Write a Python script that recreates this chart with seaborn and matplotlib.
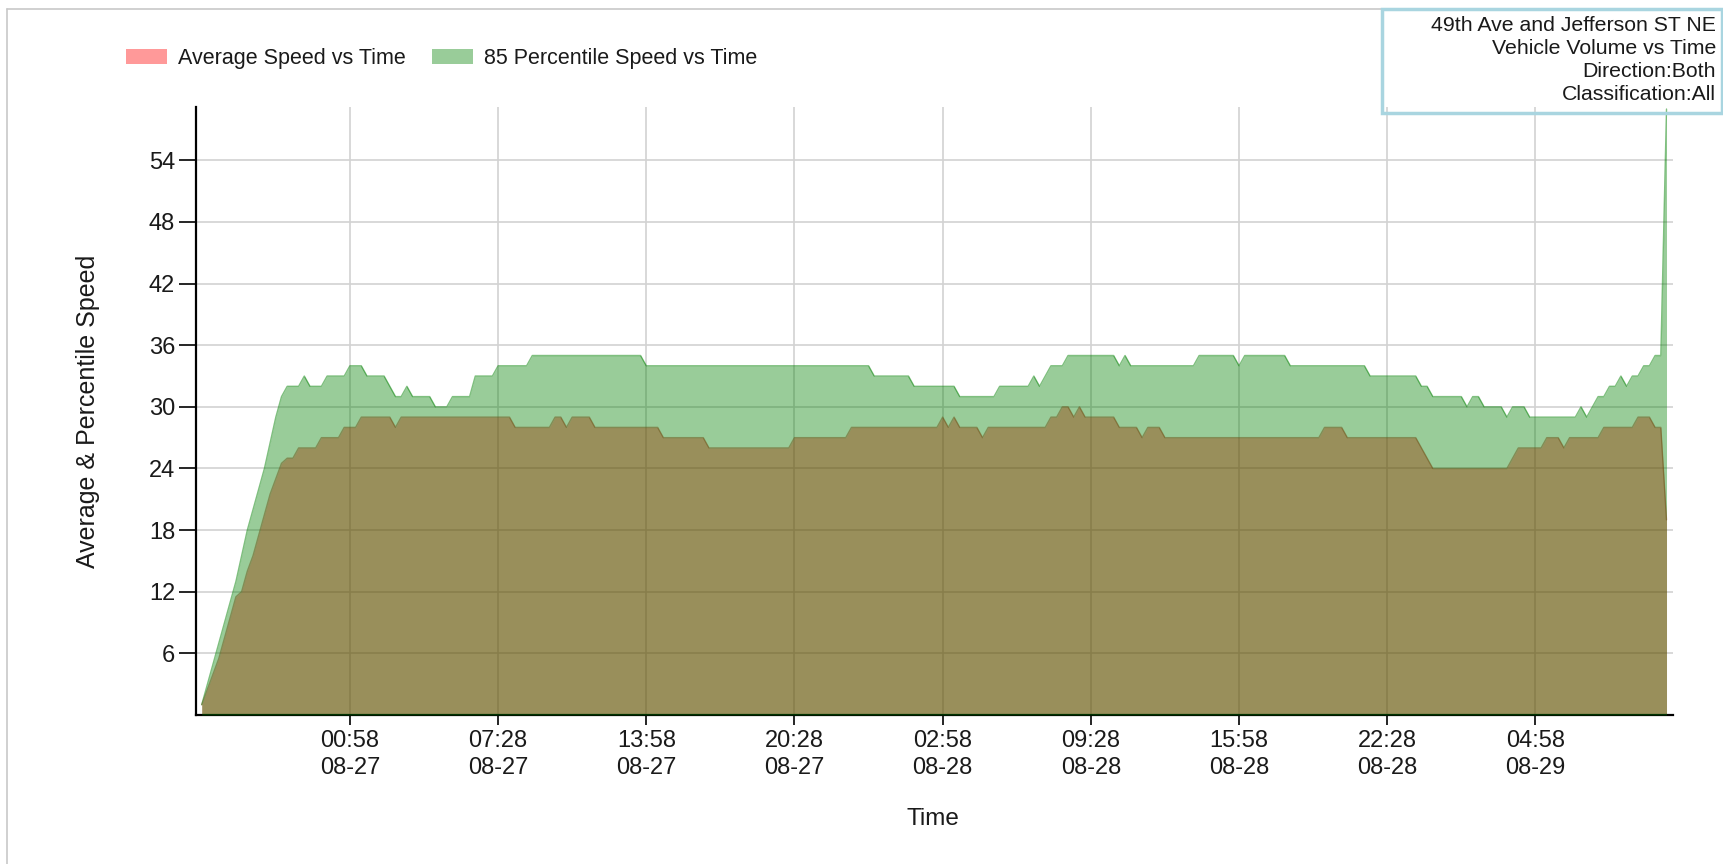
import matplotlib
matplotlib.use("Agg")
import pandas as pd
import matplotlib.pyplot as plt
from matplotlib.patches import Patch, Rectangle
from matplotlib.lines import Line2D
import seaborn as sns

# ─────────────────────────────────────────────
# DATA  (one value every 15 minutes)
# ─────────────────────────────────────────────
avg_speed = [
    1, 2.5, 4, 5.5, 7.5, 9.5, 11.5, 12, 14, 15.5, 17.5, 19.5, 21.5, 23, 24.5, 25, 25, 26, 26, 26, 26, 27, 27, 27, 27, 28,
    28, 28, 29, 29, 29, 29, 29, 29, 28, 29, 29, 29, 29, 29, 29, 29, 29, 29, 29, 29, 29, 29, 29, 29, 29, 29,
    29, 29, 29, 28, 28, 28, 28, 28, 28, 28, 29, 29, 28, 29, 29, 29, 29, 28, 28, 28, 28, 28, 28, 28, 28, 28,
    28, 28, 28, 27, 27, 27, 27, 27, 27, 27, 27, 26, 26, 26, 26, 26, 26, 26, 26, 26, 26, 26, 26, 26, 26, 26,
    27, 27, 27, 27, 27, 27, 27, 27, 27, 27, 28, 28, 28, 28, 28, 28, 28, 28, 28, 28, 28, 28, 28, 28, 28, 28,
    29, 28, 29, 28, 28, 28, 28, 27, 28, 28, 28, 28, 28, 28, 28, 28, 28, 28, 28, 29, 29, 30, 30, 29, 30, 29,
    29, 29, 29, 29, 29, 28, 28, 28, 28, 27, 28, 28, 28, 27, 27, 27, 27, 27, 27, 27, 27, 27, 27, 27, 27, 27,
    27, 27, 27, 27, 27, 27, 27, 27, 27, 27, 27, 27, 27, 27, 27, 28, 28, 28, 28, 27, 27, 27, 27, 27, 27, 27,
    27, 27, 27, 27, 27, 27, 26, 25, 24, 24, 24, 24, 24, 24, 24, 24, 24, 24, 24, 24, 24, 24, 25, 26, 26, 26,
    26, 26, 27, 27, 27, 26, 27, 27, 27, 27, 27, 27, 28, 28, 28, 28, 28, 28, 29, 29, 29, 28, 28, 19,
]
p85_speed = [
    1, 3, 5, 7, 9, 11, 13, 15.5, 18, 20, 22, 24, 26.5, 29, 31, 32, 32, 32, 33, 32, 32, 32, 33, 33, 33, 33,
    34, 34, 34, 33, 33, 33, 33, 32, 31, 31, 32, 31, 31, 31, 31, 30, 30, 30, 31, 31, 31, 31, 33, 33, 33, 33,
    34, 34, 34, 34, 34, 34, 35, 35, 35, 35, 35, 35, 35, 35, 35, 35, 35, 35, 35, 35, 35, 35, 35, 35, 35, 35,
    34, 34, 34, 34, 34, 34, 34, 34, 34, 34, 34, 34, 34, 34, 34, 34, 34, 34, 34, 34, 34, 34, 34, 34, 34, 34,
    34, 34, 34, 34, 34, 34, 34, 34, 34, 34, 34, 34, 34, 34, 33, 33, 33, 33, 33, 33, 33, 32, 32, 32, 32, 32,
    32, 32, 32, 31, 31, 31, 31, 31, 31, 31, 32, 32, 32, 32, 32, 32, 33, 32, 33, 34, 34, 34, 35, 35, 35, 35,
    35, 35, 35, 35, 35, 34, 35, 34, 34, 34, 34, 34, 34, 34, 34, 34, 34, 34, 34, 35, 35, 35, 35, 35, 35, 35,
    34, 35, 35, 35, 35, 35, 35, 35, 35, 34, 34, 34, 34, 34, 34, 34, 34, 34, 34, 34, 34, 34, 34, 33, 33, 33,
    33, 33, 33, 33, 33, 33, 32, 32, 31, 31, 31, 31, 31, 31, 30, 31, 31, 30, 30, 30, 30, 29, 30, 30, 30, 29,
    29, 29, 29, 29, 29, 29, 29, 29, 30, 29, 30, 31, 31, 32, 32, 33, 32, 33, 33, 34, 34, 35, 35, 59,
]
start_time = "2019-08-26 18:28"

tick_times = ["2019-08-27 00:58", "2019-08-27 07:28", "2019-08-27 13:58",
              "2019-08-27 20:28", "2019-08-28 02:58", "2019-08-28 09:28",
              "2019-08-28 15:58", "2019-08-28 22:28", "2019-08-29 04:58"]
tick_labels = ["00:58\n08-27", "07:28\n08-27", "13:58\n08-27", "20:28\n08-27",
               "02:58\n08-28", "09:28\n08-28", "15:58\n08-28", "22:28\n08-28",
               "04:58\n08-29"]
y_ticks = [6, 12, 18, 24, 30, 36, 42, 48, 54]

legend_labels = ["Average Speed vs Time", "85 Percentile Speed vs Time"]
info_lines = ["49th Ave and Jefferson ST NE", "Vehicle Volume vs Time",
              "Direction:Both", "Classification:All"]

times = pd.date_range(start_time, periods=len(avg_speed), freq="15min")
df = pd.DataFrame({"time": times, "avg": avg_speed, "p85": p85_speed})

# ─────────────────────────────────────────────
# STYLE
# ─────────────────────────────────────────────
sns.set_theme(style="white")
plt.rcParams["font.family"] = ["Liberation Sans", "DejaVu Sans"]
plt.rcParams["text.color"] = "#1a1a1a"

fig = plt.figure(figsize=(17.24, 8.64), dpi=100)
ax = fig.add_axes([0.1137, 0.1725, 0.8567, 0.7037])

# ─────────────────────────────────────────────
# AREAS  (green drawn over red, both translucent)
# ─────────────────────────────────────────────
ax.fill_between(df["time"], 0, df["avg"], color="red", alpha=0.4, lw=0, zorder=2)
sns.lineplot(data=df, x="time", y="avg", color="#b03020", alpha=0.5, lw=1,
             ax=ax, zorder=3)
ax.fill_between(df["time"], 0, df["p85"], color="green", alpha=0.4, lw=0, zorder=4)
sns.lineplot(data=df, x="time", y="p85", color="green", alpha=0.5, lw=1,
             ax=ax, zorder=5)

# ─────────────────────────────────────────────
# AXES
# ─────────────────────────────────────────────
ax.set_xlim(times[0] - pd.Timedelta(minutes=15), times[-1] + pd.Timedelta(minutes=17))
ax.set_ylim(0, 59.2)
ax.set_xticks(pd.to_datetime(tick_times))
ax.set_xticklabels(tick_labels, linespacing=1.35)
ax.set_yticks(y_ticks)
ax.set_yticklabels([str(v) for v in y_ticks])

ax.grid(True, color="#d2d2d2", lw=1.2)
ax.set_axisbelow(True)
for side in ["top", "right"]:
    ax.spines[side].set_visible(False)
for side in ["left", "bottom"]:
    ax.spines[side].set_color("black")
    ax.spines[side].set_linewidth(1.6)

ax.tick_params(axis="x", bottom=True, length=7.5, width=1.2, color="black",
               pad=3, labelsize=17, labelcolor="#1a1a1a")
ax.tick_params(axis="y", left=True, length=12, width=1.2, color="black",
               pad=3, labelsize=17, labelcolor="#1a1a1a")

ax.set_xlabel("Time", fontsize=17.5, color="#1a1a1a")
ax.xaxis.set_label_coords(0.499, -0.171)
ax.xaxis.label.set_va("center")
ax.set_ylabel("Average & Percentile Speed", fontsize=18, color="#1a1a1a")
ax.yaxis.set_label_coords(-0.073, 0.5)
ax.yaxis.label.set_va("center")

# ─────────────────────────────────────────────
# LEGEND, INFO BOX, FRAME
# ─────────────────────────────────────────────
handles = [Patch(facecolor="#ff9999", edgecolor="none"),
           Patch(facecolor="#99cc99", edgecolor="none")]
fig.legend(handles, legend_labels, loc="center left",
           bbox_to_anchor=(126 / 1724, 1 - 58.5 / 864), ncol=2, frameon=False,
           fontsize=15.5, handlelength=1.9, handleheight=0.75,
           handletextpad=0.5, columnspacing=1.25, borderpad=0, borderaxespad=0)

fig.add_artist(Line2D([7 / 1724, 1], [1 - 9 / 864] * 2, transform=fig.transFigure,
                      color="#c8c8c8", lw=1.2))
fig.add_artist(Line2D([7 / 1724] * 2, [0, 1 - 9 / 864], transform=fig.transFigure,
                      color="#c8c8c8", lw=1.2))

fig.add_artist(Rectangle((1382 / 1724, 1 - 113 / 864), 340 / 1724, 104 / 864,
                         transform=fig.transFigure, fill=False,
                         edgecolor="#a9d5e0", lw=2.5, zorder=10))
for k, line in enumerate(info_lines):
    fig.text(1716 / 1724, 1 - (25.5 + 23 * k) / 864, line, ha="right", va="center",
             fontsize=15.3, color="#1a1a1a")

plt.savefig("out.png", dpi=100)
